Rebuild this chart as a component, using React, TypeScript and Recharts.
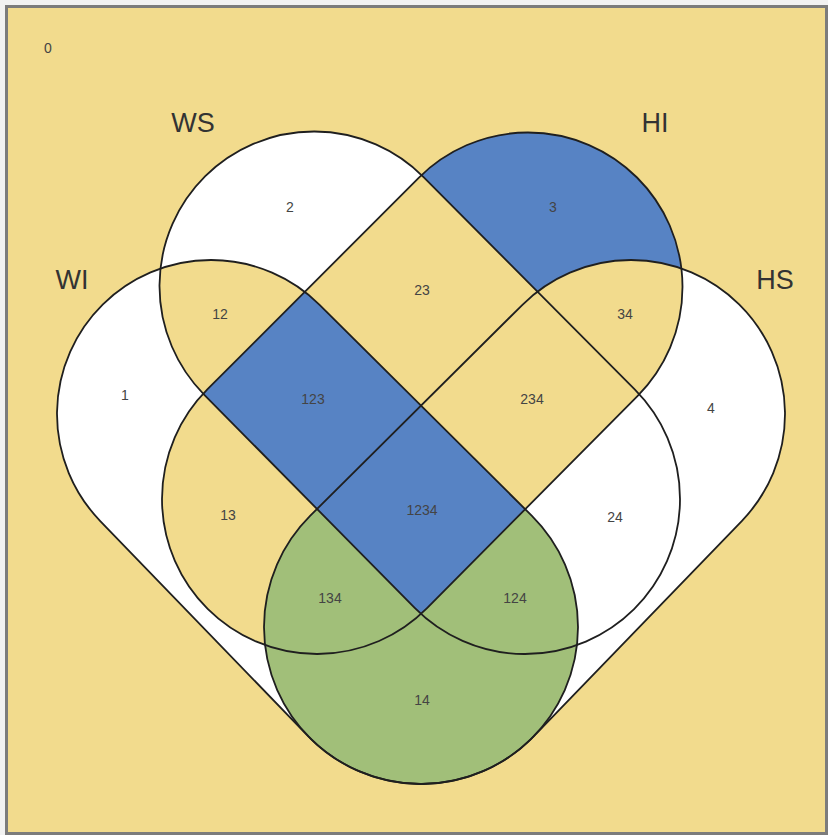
import React from 'react';
import { ScatterChart, Scatter, XAxis, YAxis } from 'recharts';

const W = 828;
const H = 835;

// sets: 1 = WI, 2 = WS, 3 = HI, 4 = HS
const setIds = ['1', '2', '3', '4'];
const setNames = ['WI', 'WS', 'HI', 'HS'];
const setLabelX = [72, 193, 655, 775];
const setLabelY = [280, 123, 123, 280];

// every set is the hull of two end circles (centre + radius, in picture units)
const endAX = [211, 314, 528, 631];
const endAY = [414, 286, 287, 414];
const endAR = [154, 154.5, 154.5, 154];
const endBX = [421, 525, 317, 421];
const endBY = [627, 499, 499, 627];
const endBR = [157, 155, 155, 157];

const regionLabels = ['0', '1', '2', '3', '4', '12', '13', '14', '23', '24', '34', '123', '124', '134', '234', '1234'];
const regionX = [48, 125, 290, 553, 711, 220, 228, 422, 422, 615, 625, 313, 515, 330, 532, 422];
const regionY = [48, 395, 207, 207, 408, 314, 515, 700, 290, 517, 314, 399, 598, 598, 399, 510];

const YELLOW = '#F2DB8D';
const WHITE = '#FFFFFF';
const BLUE = '#5783C4';
const GREEN = '#A1BF79';

// regions not listed keep the background colour
const REGION_FILL: Record<string, string> = {
  '1': WHITE,
  '2': WHITE,
  '3': BLUE,
  '4': WHITE,
  '14': GREEN,
  '24': WHITE,
  '123': BLUE,
  '124': GREEN,
  '134': GREEN,
  '1234': BLUE,
};

const geomData = setIds.flatMap((id, i) => [
  { x: endAX[i], y: endAY[i] },
  { x: endAX[i] + endAR[i], y: endAY[i] },
  { x: endBX[i], y: endBY[i] },
  { x: endBX[i] + endBR[i], y: endBY[i] },
]);
const regionData = regionLabels.map((label, i) => ({ x: regionX[i], y: regionY[i], label }));
const setLabelData = setNames.map((label, i) => ({ x: setLabelX[i], y: setLabelY[i], label }));

function hullPath(x1: number, y1: number, r1: number, x2: number, y2: number, r2: number) {
  const dx = x2 - x1;
  const dy = y2 - y1;
  const d = Math.hypot(dx, dy);
  const t = Math.atan2(dy, dx);
  const p = Math.acos(Math.max(-1, Math.min(1, (r1 - r2) / d)));
  const pt = (cx: number, cy: number, r: number, a: number) => [cx + r * Math.cos(a), cy + r * Math.sin(a)];
  const [ax, ay] = pt(x1, y1, r1, t + p);
  const [bx, by] = pt(x2, y2, r2, t + p);
  const [cx, cy] = pt(x2, y2, r2, t - p);
  const [ex, ey] = pt(x1, y1, r1, t - p);
  const large2 = 2 * p > Math.PI ? 1 : 0;
  const large1 = 2 * Math.PI - 2 * p > Math.PI ? 1 : 0;
  return `M${ax},${ay}L${bx},${by}A${r2},${r2} 0 ${large2} 0 ${cx},${cy}L${ex},${ey}A${r1},${r1} 0 ${large1} 0 ${ax},${ay}Z`;
}

function VennShapes(props: any) {
  const pts = props.points || [];
  if (pts.length < setIds.length * 4) return null;
  const hulls = setIds.map((id, i) => {
    const a = pts[i * 4];
    const ar = pts[i * 4 + 1];
    const b = pts[i * 4 + 2];
    const br = pts[i * 4 + 3];
    const r1 = Math.hypot(ar.x - a.x, ar.y - a.y);
    const r2 = Math.hypot(br.x - b.x, br.y - b.y);
    return hullPath(a.x, a.y, r1, b.x, b.y, r2);
  });
  const regions = regionLabels.filter((r) => REGION_FILL[r]);

  return (
    <g>
      <defs>
        {setIds.map((id, i) => (
          <clipPath id={`venn-clip-${id}`} key={id}>
            <path d={hulls[i]} />
          </clipPath>
        ))}
        {regions.map((r) => (
          <mask id={`venn-mask-${r}`} key={r} maskUnits="userSpaceOnUse" x={0} y={0} width={W} height={H}>
            <rect x={0} y={0} width={W} height={H} fill="#fff" />
            {setIds.map((id, i) => (r.includes(id) ? null : <path key={id} d={hulls[i]} fill="#000" />))}
          </mask>
        ))}
      </defs>
      {regions.map((r) =>
        r.split('').reduceRight<React.ReactNode>(
          (child, id) => <g clipPath={`url(#venn-clip-${id})`}>{child}</g>,
          <rect x={0} y={0} width={W} height={H} fill={REGION_FILL[r]} mask={`url(#venn-mask-${r})`} />,
        ),
      ).map((node, i) => (
        <g key={regions[i]}>{node}</g>
      ))}
      {hulls.map((d, i) => (
        <path key={i} d={d} fill="none" stroke="#1f1f1f" strokeWidth={1.8} />
      ))}
    </g>
  );
}

const RegionText = (p: any) => (
  <text x={p.cx} y={p.cy} dy="0.35em" textAnchor="middle" fontSize={14} fill="#444" fontFamily="Liberation Sans, Arial, sans-serif">
    {p.payload.label}
  </text>
);

const SetText = (p: any) => (
  <text x={p.cx} y={p.cy} dy="0.35em" textAnchor="middle" fontSize={27} fill="#333" fontFamily="Liberation Sans, Arial, sans-serif">
    {p.payload.label}
  </text>
);

export default function App() {
  return (
    <div style={{ position: 'relative', width: W, height: H, background: '#f2f2f2', overflow: 'hidden' }}>
      <style>{'body{margin:0}'}</style>
      <div
        style={{
          position: 'absolute',
          left: 5,
          top: 5,
          width: W - 11,
          height: H - 11,
          background: YELLOW,
          border: '3px solid #7c7c7c',
        }}
      />
      <div style={{ position: 'absolute', left: 0, top: 0 }}>
        <ScatterChart width={W} height={H} margin={{ top: 0, right: 0, bottom: 0, left: 0 }}>
          <XAxis type="number" dataKey="x" domain={[0, W]} hide />
          <YAxis type="number" dataKey="y" domain={[0, H]} reversed hide />
          <Scatter data={geomData} isAnimationActive={false} line={<VennShapes />} shape={() => <g />} />
          <Scatter data={regionData} isAnimationActive={false} shape={RegionText} />
          <Scatter data={setLabelData} isAnimationActive={false} shape={SetText} />
        </ScatterChart>
      </div>
    </div>
  );
}
